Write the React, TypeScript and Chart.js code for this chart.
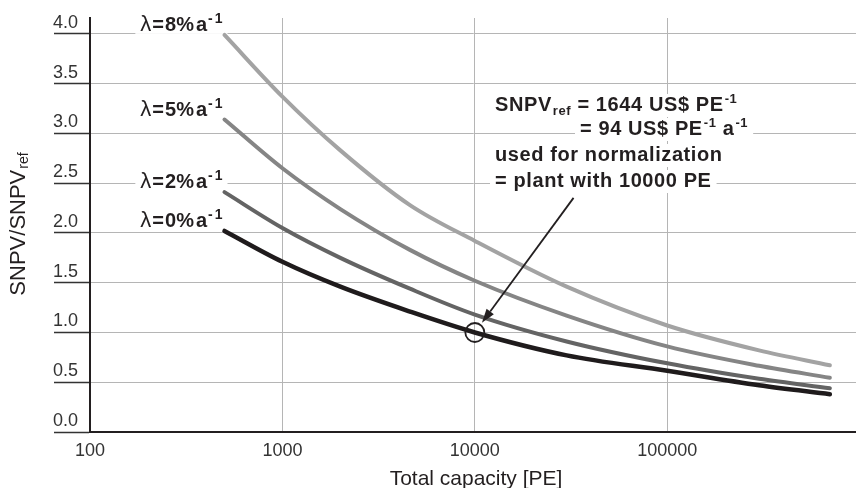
import React, { useEffect, useRef } from 'react';
import { Chart, registerables } from 'chart.js';

Chart.register(...registerables);

// ---- data ----
const capacity = [500, 1000, 2000, 4600, 10000, 30000, 100000, 300000, 700000];
const snpv8 = [3.99, 3.37, 2.83, 2.28, 1.92, 1.46, 1.07, 0.82, 0.67];
const snpv5 = [3.14, 2.65, 2.24, 1.83, 1.52, 1.17, 0.86, 0.665, 0.545];
const snpv2 = [2.41, 2.05, 1.75, 1.44, 1.18, 0.91, 0.69, 0.535, 0.44];
const snpv0 = [2.02, 1.71, 1.46, 1.21, 1.0, 0.77, 0.615, 0.47, 0.38];
const lambdaPct = ['8', '5', '2', '0'];
const lineColors = ['#a3a3a3', '#858585', '#646464', '#1f1b1c'];
const xTicks = [100, 1000, 10000, 100000];
const yTicks = [0, 0.5, 1, 1.5, 2, 2.5, 3, 3.5, 4];
const refCapacity = 10000;
const refValue = 1.0;
const xTitle = 'Total capacity [PE]';

const FONT = '"Liberation Sans", Arial, Helvetica, sans-serif';
const TEXT = '#231f20';
const B20 = `bold 20px ${FONT}`;
const B13 = `bold 13px ${FONT}`;

type Seg = { t: string; f: string; dy?: number; gap?: number };

function measureRich(ctx: CanvasRenderingContext2D, segs: Seg[]) {
  let w = 0;
  for (const s of segs) {
    ctx.font = s.f;
    w += (s.gap || 0) + ctx.measureText(s.t).width;
  }
  return w;
}

function drawRich(ctx: CanvasRenderingContext2D, x: number, base: number, segs: Seg[]) {
  let cx = x;
  for (const s of segs) {
    ctx.font = s.f;
    cx += s.gap || 0;
    ctx.fillText(s.t, cx, base + (s.dy || 0));
    cx += ctx.measureText(s.t).width;
  }
  return cx - x;
}

const overlay = {
  id: 'overlay',
  beforeDatasetsDraw(chart: any) {
    const { ctx, scales, chartArea } = chart;
    const xs = scales.x;
    const ys = scales.y;
    const series = [snpv8, snpv5, snpv2, snpv0];
    ctx.save();
    ctx.textBaseline = 'alphabetic';
    ctx.textAlign = 'left';
    // lambda labels
    series.forEach((vals, i) => {
      const segs: Seg[] = [
        { t: 'λ', f: `22px ${FONT}` },
        { t: '=', f: B20, gap: 1 },
        { t: lambdaPct[i] + '%', f: B20, gap: 1 },
        { t: 'a', f: B20, gap: 2 },
        { t: '-', f: `bold 14px ${FONT}`, dy: -8, gap: 1 },
        { t: '1', f: `bold 14px ${FONT}`, dy: -8, gap: 2 },
      ];
      const w = measureRich(ctx, segs);
      const right = xs.getPixelForValue(capacity[0]) - 2;
      const base = ys.getPixelForValue(vals[0]) - 4;
      const left = right - w;
      ctx.fillStyle = '#ffffff';
      ctx.fillRect(left - 5, base - 16, w + 10, 19);
      ctx.fillStyle = TEXT;
      drawRich(ctx, left, base, segs);
    });

    // annotation block
    (ctx as any).letterSpacing = '0.6px';
    const ax = chartArea.left + 405;
    const lines: { x: number; base: number; segs: Seg[] }[] = [
      {
        x: ax,
        base: 111,
        segs: [
          { t: 'SNPV', f: B20 },
          { t: 'ref', f: B13, dy: 4, gap: 1 },
          { t: ' = 1644 US$ PE', f: B20 },
          { t: '-1', f: B13, dy: -8, gap: 1 },
        ],
      },
      {
        x: ax + 85,
        base: 135,
        segs: [
          { t: '= 94 US$ PE', f: B20 },
          { t: '-1', f: B13, dy: -8, gap: 1 },
          { t: ' a', f: B20 },
          { t: '-1', f: B13, dy: -8, gap: 1 },
        ],
      },
      { x: ax, base: 161, segs: [{ t: 'used for normalization', f: B20 }] },
      { x: ax, base: 187, segs: [{ t: '= plant with 10000 PE', f: B20 }] },
    ];
    lines.forEach((ln) => {
      const w = measureRich(ctx, ln.segs);
      ctx.fillStyle = '#ffffff';
      ctx.fillRect(ln.x - 5, ln.base - 17, w + 10, 23);
    });
    ctx.fillStyle = TEXT;
    lines.forEach((ln) => drawRich(ctx, ln.x, ln.base, ln.segs));
    ctx.restore();
  },
  afterDatasetsDraw(chart: any) {
    const { ctx, scales } = chart;
    const cx = scales.x.getPixelForValue(refCapacity);
    const cy = scales.y.getPixelForValue(refValue);
    ctx.save();
    ctx.strokeStyle = TEXT;
    ctx.lineWidth = 1.8;
    ctx.beginPath();
    ctx.arc(cx, cy, 9.5, 0, Math.PI * 2);
    ctx.stroke();
    // arrow
    const ux = 0.591;
    const uy = -0.806;
    const tipX = cx + ux * 12;
    const tipY = cy + uy * 12;
    const sx = cx + ux * 167;
    const sy = cy + uy * 167;
    const headLen = 14;
    const hw = 4.5;
    const bx = tipX + ux * headLen;
    const by = tipY + uy * headLen;
    ctx.beginPath();
    ctx.moveTo(sx, sy);
    ctx.lineTo(bx, by);
    ctx.stroke();
    ctx.fillStyle = TEXT;
    ctx.beginPath();
    ctx.moveTo(tipX, tipY);
    ctx.lineTo(bx - uy * hw, by + ux * hw);
    ctx.lineTo(bx + uy * hw, by - ux * hw);
    ctx.closePath();
    ctx.fill();
    ctx.restore();
  },
  afterDraw(chart: any) {
    const { ctx, chartArea } = chart;
    ctx.save();
    ctx.fillStyle = TEXT;
    ctx.textBaseline = 'alphabetic';
    // x title
    ctx.font = `21px ${FONT}`;
    ctx.textAlign = 'center';
    ctx.fillText(xTitle, (chartArea.left + chartArea.right) / 2 + 3, 485);
    // y title (rotated, with subscript)
    ctx.textAlign = 'left';
    ctx.translate(24.5, 224);
    ctx.rotate(-Math.PI / 2);
    const segs: Seg[] = [
      { t: 'SNPV/SNPV', f: `22px ${FONT}` },
      { t: 'ref', f: `14px ${FONT}`, dy: 3, gap: 1 },
    ];
    const w = measureRich(ctx, segs);
    drawRich(ctx, -w / 2, 0, segs);
    ctx.restore();
  },
};

export default function App() {
  const ref = useRef<HTMLCanvasElement>(null);
  useEffect(() => {
    const canvas = ref.current!;
    const series = [snpv8, snpv5, snpv2, snpv0];
    const chart = new Chart(canvas, {
      type: 'line',
      data: {
        datasets: series.map((vals, i) => ({
          label: `λ=${lambdaPct[i]}% a-1`,
          data: capacity.map((c, j) => ({ x: c, y: vals[j] })),
          borderColor: lineColors[i],
          borderWidth: i === 3 ? 4.5 : 4,
          pointRadius: 0,
          fill: false,
          cubicInterpolationMode: 'monotone',
          borderCapStyle: 'round',
          borderJoinStyle: 'round',
        })),
      },
      options: {
        responsive: false,
        animation: false,
        devicePixelRatio: 1,
        layout: { padding: { left: 53, top: 18, right: 0, bottom: 0 } },
        plugins: {
          legend: { display: false },
          tooltip: { enabled: false },
          title: { display: false },
        },
        scales: {
          x: {
            type: 'logarithmic',
            min: 100,
            max: 957000,
            afterBuildTicks: (s: any) => {
              s.ticks = xTicks.map((v) => ({ value: v }));
            },
            afterFit: (s: any) => {
              s.height = 56;
            },
            grid: { color: '#b5b5b5', lineWidth: 1, drawTicks: false },
            border: { color: TEXT, width: 2 },
            ticks: {
              font: { family: FONT, size: 18 },
              color: '#333333',
              padding: 8,
              maxRotation: 0,
              autoSkip: false,
              callback: (v: any) => String(v),
            },
          },
          y: {
            type: 'linear',
            min: 0,
            max: 4.16,
            afterBuildTicks: (s: any) => {
              s.ticks = yTicks.map((v) => ({ value: v }));
            },
            afterFit: (s: any) => {
              s.width = 37;
            },
            grid: {
              color: '#b5b5b5',
              lineWidth: 1,
              drawTicks: true,
              tickLength: 36,
              tickColor: '#333333',
              tickWidth: 1.5,
            },
            border: { color: TEXT, width: 2 },
            ticks: {
              font: { family: FONT, size: 18 },
              color: '#333333',
              padding: 0,
              crossAlign: 'far',
              labelOffset: -11,
              callback: (v: any) => Number(v).toFixed(1),
            },
          },
        },
      },
      plugins: [overlay as any],
    } as any);
    return () => chart.destroy();
  }, []);
  return (
    <div style={{ position: 'fixed', left: 0, top: 0, width: 856, height: 488, background: '#ffffff' }}>
      <canvas ref={ref} width={856} height={488} style={{ display: 'block', width: 856, height: 488 }} />
    </div>
  );
}
